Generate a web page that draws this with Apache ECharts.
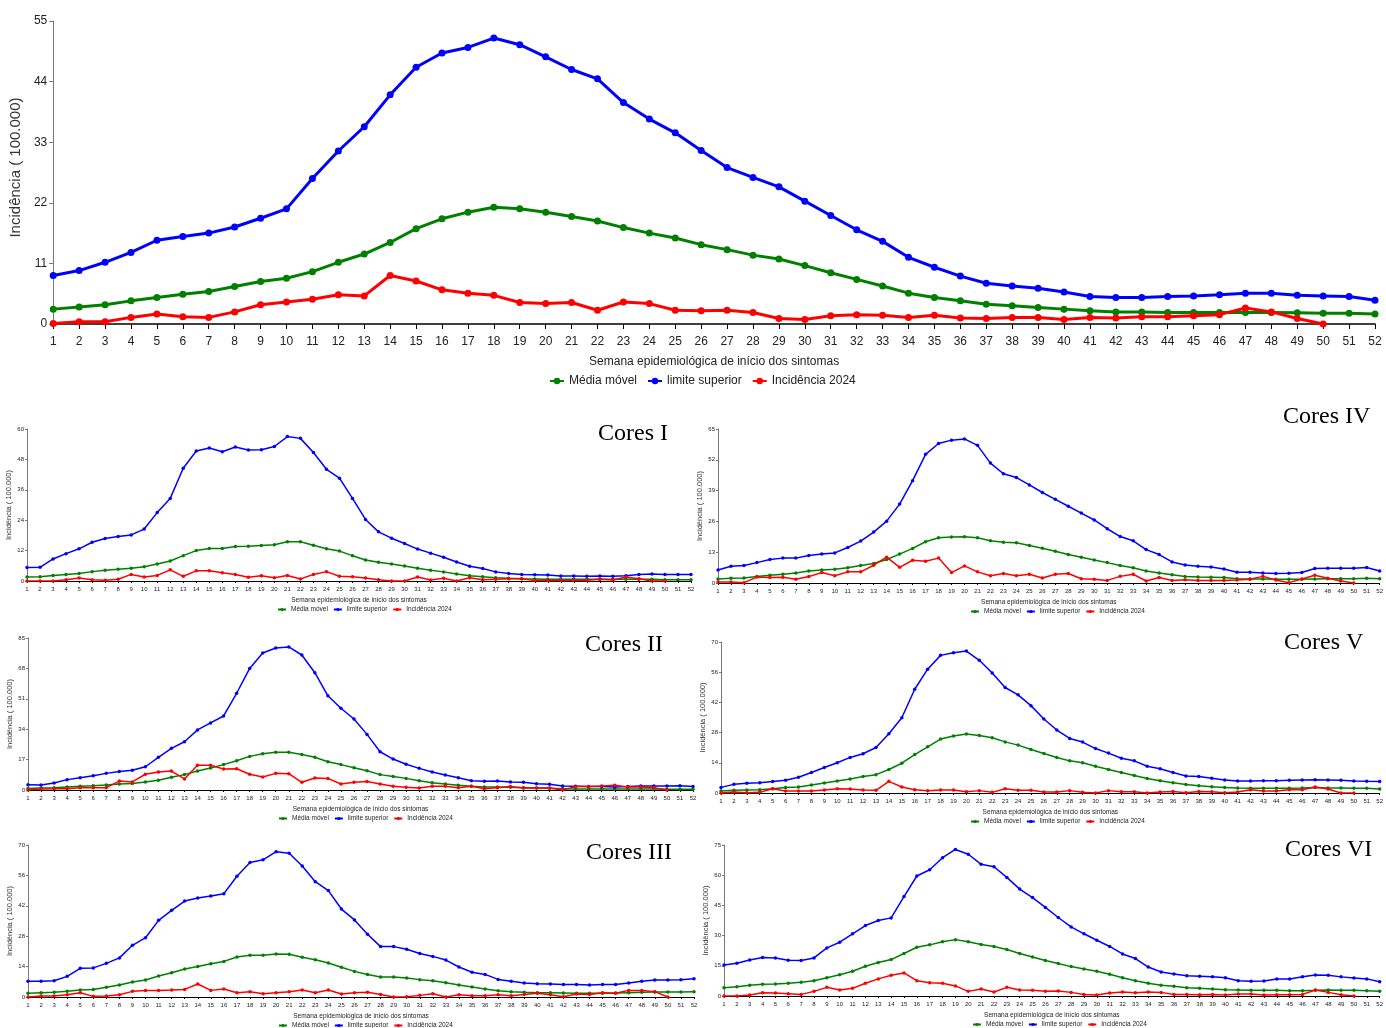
<!DOCTYPE html>
<html><head><meta charset="utf-8">
<script src="https://cdn.jsdelivr.net/npm/echarts@6/dist/echarts.min.js"></script>
<style>html,body{margin:0;padding:0;background:#fff}#c{width:1386px;height:1028px}</style>
</head><body><div id="c"></div>
<script>
const weeks = ['1','2','3','4','5','6','7','8','9','10','11','12','13','14','15','16','17','18','19','20','21','22','23','24','25','26','27','28','29','30','31','32','33','34','35','36','37','38','39','40','41','42','43','44','45','46','47','48','49','50','51','52'];
const seriesNames = ['Média móvel','limite superior','Incidência 2024'];

// Estado (gráfico principal)
const mainMedia = [2.7,3.1,3.5,4.2,4.8,5.4,5.9,6.8,7.7,8.3,9.5,11.2,12.7,14.8,17.3,19.1,20.3,21.2,20.9,20.3,19.5,18.7,17.5,16.5,15.6,14.4,13.5,12.5,11.8,10.6,9.3,8.1,6.9,5.6,4.8,4.2,3.6,3.3,3.0,2.7,2.4,2.2,2.2,2.1,2.1,2.1,2.1,2.1,2.05,1.95,1.95,1.8];
const mainLimite = [8.8,9.7,11.2,13.0,15.2,15.9,16.5,17.6,19.2,20.9,26.4,31.4,35.8,41.6,46.6,49.2,50.2,51.9,50.7,48.5,46.2,44.5,40.2,37.2,34.7,31.5,28.4,26.6,24.9,22.3,19.7,17.1,15.0,12.1,10.3,8.7,7.4,6.9,6.5,5.8,5.0,4.8,4.8,5.0,5.1,5.3,5.6,5.6,5.2,5.1,5.0,4.3];
const mainInc = [0.1,0.4,0.4,1.2,1.8,1.3,1.2,2.2,3.5,4.0,4.5,5.3,5.1,8.8,7.8,6.2,5.6,5.2,3.9,3.7,3.9,2.5,4.0,3.7,2.5,2.4,2.5,2.1,1.0,0.8,1.5,1.7,1.6,1.2,1.6,1.1,1.0,1.2,1.2,0.8,1.2,1.1,1.3,1.3,1.5,1.7,2.9,2.2,1.0,0];

// Cores I
const c1Media = [1.6,1.7,2.2,2.6,3.0,3.7,4.2,4.6,5.0,5.6,6.7,7.9,10.0,12.0,12.8,12.8,13.6,13.7,14.0,14.3,15.5,15.5,14.1,12.7,11.8,10.0,8.3,7.4,6.7,5.9,5.0,4.2,3.6,2.8,2.1,1.7,1.3,1.05,0.9,0.8,0.7,0.7,0.7,0.7,0.7,0.7,0.7,0.7,0.7,0.5,0.5,0.5];
const c1Limite = [5.3,5.4,8.7,10.8,12.7,15.3,16.8,17.6,18.2,20.5,27.0,32.6,44.5,51.3,52.5,51.0,52.9,51.7,51.8,53.1,57.0,56.3,50.7,44.1,40.6,32.6,24.3,19.4,16.9,14.8,12.6,11.0,9.4,7.5,5.8,4.9,3.6,3.0,2.6,2.5,2.4,2.0,2.0,1.85,2.0,1.85,2.1,2.6,2.8,2.6,2.6,2.6];
const c1Inc = [0,0,0,0.5,1.2,0.5,0.3,0.7,2.6,1.6,2.2,4.4,1.85,4.0,4.0,3.3,2.6,1.45,2.1,1.3,2.2,0.8,2.6,3.7,1.85,1.7,1.2,0.5,0,0,1.6,0.4,1.05,0,1.3,0.5,0.7,0.9,0.9,0.15,0.15,0.15,0.3,0.3,0.7,0.4,1.6,0.9,0,0];

// Cores II
const c2Media = [0.9,1.1,1.3,1.7,2.05,2.4,2.8,3.35,3.7,4.5,5.4,7.1,8.6,10.6,12.3,14.2,16.4,18.8,20.3,21.1,21.1,19.9,18.3,15.8,14.2,12.5,10.8,8.6,7.6,6.5,5.2,4.1,3.35,2.6,2.05,1.7,1.7,1.5,1.3,1.1,0.93,0.75,0.56,0.56,0.56,0.56,0.56,0.56,0.56,0.37,0.37,0.37];
const c2Limite = [3.0,2.8,3.9,5.8,6.9,8.0,9.3,10.4,11.0,13.0,18.3,23.3,27.0,33.6,37.5,41.4,54.1,68.0,76.6,79.4,80.0,75.5,65.6,52.7,45.7,39.7,31.1,21.4,17.3,14.4,12.1,10.1,8.4,6.9,5.2,4.85,5.0,4.5,4.3,3.5,3.2,2.2,2.05,1.9,1.9,1.7,1.9,2.2,2.2,2.2,2.4,1.9];
const c2Inc = [0,0.56,0.75,0.75,1.3,1.3,1.3,5.0,4.5,8.8,10.1,10.6,6.2,13.8,13.8,11.7,11.9,8.8,7.3,9.3,9.1,4.3,6.7,6.5,3.35,4.3,4.7,3.35,2.05,1.5,1.1,2.05,2.05,1.3,2.05,0.75,1.3,1.9,1.1,1.1,1.1,0,1.9,1.9,2.2,2.6,1.7,1.7,1.3,0];

// Cores III
const c3Media = [1.7,2.0,2.15,2.6,3.2,3.5,4.45,5.5,6.9,7.8,9.7,11.2,12.9,14.0,15.35,16.4,18.4,19.2,19.2,19.8,19.65,18.3,17.2,15.65,13.7,11.8,10.4,9.2,9.2,8.75,8.0,7.5,6.6,5.5,4.6,3.7,2.9,2.45,2.15,2.0,2.0,1.85,1.7,1.7,1.7,1.85,2.0,2.15,2.3,2.3,2.3,2.45];
const c3Limite = [7.2,7.2,7.5,9.5,13.2,13.4,15.5,18.0,23.8,27.3,35.3,39.9,44.2,45.6,46.5,47.6,55.6,61.9,63.2,66.9,66.2,60.3,53.1,49.0,40.5,35.5,28.9,23.2,23.2,22.0,20.0,18.7,17.0,13.8,11.4,10.4,8.1,7.2,6.45,6.1,6.0,5.8,5.8,5.5,5.7,5.8,6.45,7.2,7.8,7.8,8.0,8.4];
const c3Inc = [0,0.45,0.45,1.05,2.0,0.3,0.45,1.05,2.6,3.05,3.05,3.2,3.5,6.0,3.05,3.7,2.0,2.45,1.5,2.0,2.45,3.2,2.0,3.2,1.4,2.0,2.15,1.2,0,0.15,0.75,1.5,0,1.05,0.6,0.6,1.05,0.6,1.2,1.7,1.05,0.15,1.4,1.2,2.0,1.7,3.05,3.05,2.45,0];

// Cores IV
const c4Media = [1.7,2.0,2.1,2.7,3.25,3.7,4.2,5.1,5.5,5.8,6.4,7.35,8.2,9.9,12.2,14.6,17.4,19.1,19.4,19.5,19.1,17.8,17.2,17.0,15.8,14.7,13.4,12.0,10.9,9.75,8.6,7.35,6.4,5.1,4.2,3.5,2.7,2.5,2.4,2.3,1.8,1.7,1.7,1.55,1.55,1.55,1.7,1.8,1.8,1.8,2.0,1.8];
const c4Limite = [5.5,7.1,7.35,8.6,9.9,10.5,10.5,11.6,12.2,12.7,15.0,17.7,21.5,26.1,33.3,43.2,54.3,58.9,60.3,60.8,58.1,50.6,46.1,44.5,41.4,38.2,35.3,32.4,29.5,26.6,22.9,19.6,17.8,14.1,12.0,8.9,7.6,7.1,6.8,5.9,4.5,4.5,4.2,4.0,4.1,4.4,6.1,6.2,6.2,6.2,6.5,5.1];
const c4Inc = [0.4,0.4,0.15,2.5,2.3,2.4,1.55,2.7,4.4,3.1,4.7,4.7,7.5,10.9,6.6,9.6,9.2,10.5,4.4,7.2,4.7,3.1,4.0,3.1,3.7,2.1,3.7,4.0,1.8,1.55,1.1,2.8,3.7,0.85,2.3,1.1,1.4,1.1,1.1,1.1,1.25,1.55,2.8,1.25,0.15,1.7,3.25,2.0,0.85,0];

// Cores V
const c5Media = [0.9,1.25,1.4,1.55,2.0,2.5,2.8,3.7,4.65,5.6,6.5,7.6,8.5,10.9,13.8,17.8,21.4,25.0,26.4,27.3,26.7,25.6,23.7,22.2,20.2,18.3,16.5,14.9,14.0,12.4,10.9,9.5,8.1,6.7,5.7,4.8,3.9,3.4,2.95,2.5,2.3,2.2,2.2,2.2,2.2,2.3,2.5,2.3,2.3,2.2,2.2,1.9];
const c5Limite = [2.6,4.0,4.5,4.8,5.3,5.9,7.3,9.5,11.8,14.0,16.5,18.2,21.1,27.5,34.9,48.1,57.4,63.8,65.0,65.8,61.5,55.6,48.9,45.5,40.5,34.3,29.2,25.3,23.6,20.6,18.5,16.1,14.9,12.4,11.2,9.5,7.9,7.6,6.8,6.05,5.6,5.6,5.7,5.7,5.9,6.05,6.2,6.05,5.9,5.6,5.4,5.3];
const c5Inc = [0,0.45,0.15,0.3,2.0,0.9,0.9,0.9,1.4,2.0,1.85,1.4,1.25,5.4,2.8,1.55,1.1,1.4,1.4,0.6,1.1,0.3,2.0,1.25,1.25,0.45,0.45,1.1,0.3,0,1.1,0.6,0.6,0,0.45,0.75,0.15,0.75,0.6,0.15,0.45,1.55,0.9,0.9,1.55,1.55,2.8,1.85,0,0];

// Cores VI
const c6Media = [4.15,4.65,5.3,5.8,6.0,6.3,6.8,7.6,9.1,10.6,12.3,14.8,16.6,18.1,21.1,24.2,25.4,26.9,28.0,26.9,25.6,24.6,23.1,21.1,19.4,17.6,16.1,14.6,13.4,12.3,10.8,9.1,7.6,6.3,5.3,4.8,4.15,3.8,3.5,3.15,3.0,2.8,2.8,2.8,2.65,2.65,2.8,3.0,2.8,2.8,2.65,2.3];
const c6Limite = [15.4,16.3,17.9,19.1,18.9,17.75,17.6,18.9,23.9,26.7,30.9,35.0,37.5,38.8,49.4,59.6,62.7,68.7,72.8,70.4,65.4,64.2,58.9,53.1,48.9,44.0,39.0,34.3,30.9,27.7,24.6,20.9,18.6,14.4,11.9,10.95,10.0,9.8,9.6,9.1,7.6,7.3,7.5,8.5,8.5,9.6,10.45,10.3,9.5,8.95,8.5,7.1];
const c6Inc = [0,0,0.5,1.65,1.5,1.15,0.8,2.3,4.3,3.0,3.8,6.3,8.5,10.3,11.45,7.6,6.6,6.3,5.0,2.3,3.5,2.0,4.3,3.0,2.8,2.3,2.5,1.8,0.8,0.5,1.5,2.0,1.65,2.0,1.8,0.8,0.8,0.65,0.8,0.5,1.0,1.0,0.5,0.65,0.65,0.8,3.0,1.8,0.65,0];

const SANS = 'Arial, "Liberation Sans", sans-serif';
const SERIF = '"Times New Roman", "Liberation Serif", serif';
const colors = ['#008000','#0000ff','#ff0000'];

const panels = [
  {big:true, data:[mainMedia,mainLimite,mainInc], grid:{left:51,top:21,width:1324,height:303}, max:55, interval:11, legendLeft:549},
  {title:'Cores I',  data:[c1Media,c1Limite,c1Inc], grid:{left:27,top:429,width:664,height:152}, max:60, interval:12, titlePos:[598,422], legendLeft:277},
  {title:'Cores IV', data:[c4Media,c4Limite,c4Inc], grid:{left:718,top:429,width:670,height:154}, max:65, interval:13, titlePos:[1283,405], legendLeft:970},
  {title:'Cores II', data:[c2Media,c2Limite,c2Inc], grid:{left:28,top:638,width:665,height:152}, max:85, interval:17, titlePos:[585,633], legendLeft:278},
  {title:'Cores V',  data:[c5Media,c5Limite,c5Inc], grid:{left:721,top:642,width:667,height:151}, max:70, interval:14, titlePos:[1284,631], legendLeft:970},
  {title:'Cores III',data:[c3Media,c3Limite,c3Inc], grid:{left:28,top:845,width:666,height:152}, max:70, interval:14, titlePos:[586,841], legendLeft:278},
  {title:'Cores VI', data:[c6Media,c6Limite,c6Inc], grid:{left:724,top:845,width:664,height:151}, max:75, interval:15, titlePos:[1285,838], legendLeft:972}
];

const option = {animation:false, backgroundColor:'#fff', grid:[], xAxis:[], yAxis:[], series:[], legend:[], title:[]};

panels.forEach((p,i)=>{
  const big = !!p.big;
  option.grid.push(Object.assign({containLabel:false}, p.grid));
  option.xAxis.push({
    type:'category', gridIndex:i, data:weeks, boundaryGap:false,
    axisLine:{show:true, lineStyle:{color:'#000', width: big?1.5:1}},
    axisTick:{show:true, interval:0, length: big?5:2, lineStyle:{color:'#000'}},
    axisLabel:{interval:0, fontSize: big?12:6, color:'#222', fontFamily:SANS, margin: big?12:5},
    splitLine:{show:false},
    name:'Semana epidemiológica de início dos sintomas', nameLocation:'middle', nameGap: big?32:15.5,
    nameTextStyle:{fontSize: big?12:6.5, color:'#222', fontFamily:SANS}
  });
  option.yAxis.push({
    type:'value', gridIndex:i, min:0, max:p.max, interval:p.interval,
    axisLine:{show:true, lineStyle:{color:'#777', width:1}},
    axisTick:{show:true, length: big?4:2, lineStyle:{color:'#777'}},
    axisLabel:{fontSize: big?12:6, color:'#222', fontFamily:SANS, margin: big?6:3},
    splitLine:{show:false},
    name:'Incidência ( 100.000)', nameLocation:'middle', nameGap: big?24:12,
    nameTextStyle:{fontSize: big?15:7.5, color:'#333', fontFamily:SANS, padding: big?[0,0,0,10]:[0,0,0,0]}
  });
  p.data.forEach((d,k)=>{
    option.series.push({
      type:'line', name:seriesNames[k], xAxisIndex:i, yAxisIndex:i, data:d,
      symbol:'circle', symbolSize: big?7:3.5, showSymbol:true,
      itemStyle:{color:colors[k]},
      lineStyle:{color:colors[k], width: big?3:1.5},
      emphasis:{disabled:true}, z:2+k
    });
  });
  const gb = p.grid.top + p.grid.height;
  option.legend.push({
    data:seriesNames, left:p.legendLeft, top: big?375:gb+25, orient:'horizontal',
    itemWidth: big?14:8, itemHeight: big?8:4, itemGap: big?10:5, padding:0,
    textStyle:{fontSize: big?12:6.5, color:'#222', fontFamily:SANS}
  });
  if(p.title){
    option.title.push({text:p.title, left:p.titlePos[0], top:p.titlePos[1], padding:0,
      textStyle:{fontFamily:SERIF, fontSize:24, fontWeight:'normal', color:'#000'}});
  }
});

const chart = echarts.init(document.getElementById('c'), null, {renderer:'canvas'});
chart.setOption(option);
</script>
</body></html>
